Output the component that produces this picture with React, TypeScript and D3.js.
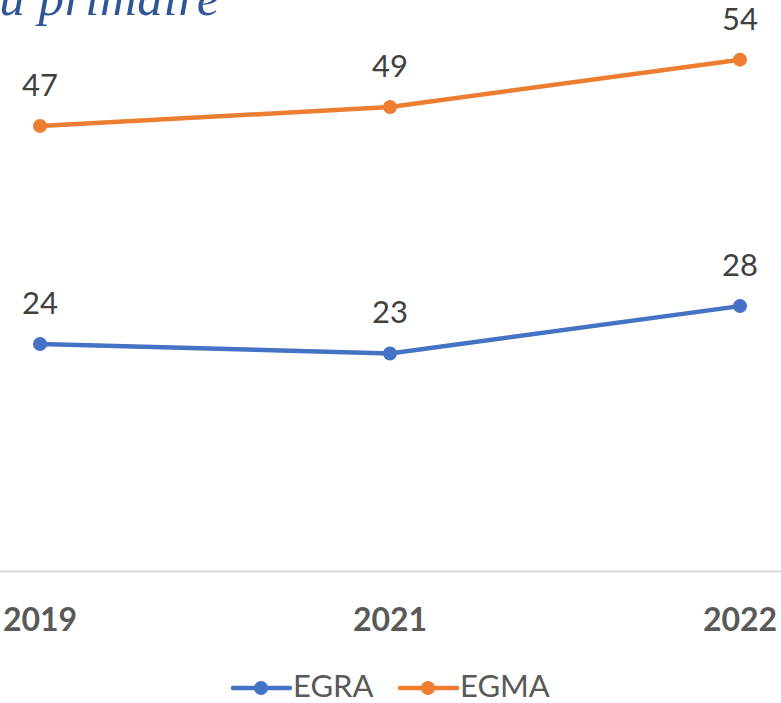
import React from "react";
import * as d3 from "d3";

const years = ["2019", "2021", "2022"];
const egra = [24, 23, 28];
const egma = [47, 49, 54];
const seriesNames = ["EGRA", "EGMA"];
const seriesColors = ["#4472C4", "#ED7D31"];

const width = 781;
const height = 703;
const font = "Lato, 'Open Sans', sans-serif";

export default function App() {
  const x = d3.scalePoint<string>().domain(years).range([40, 740]);
  const y = d3.scaleLinear().domain([0, 60]).range([571.5, 2.8]);
  const line = d3
    .line<number>()
    .x((_, i) => x(years[i]) as number)
    .y((d) => y(d));

  const series = [egra, egma];

  return (
    <svg
      width={width}
      height={height}
      style={{ position: "absolute", left: 0, top: 0, background: "#fff" }}
    >
      {/* title, cut at the top and left */}
      <text
        x={220}
        y={15}
        textAnchor="end"
        fontFamily="'Liberation Serif', serif"
        fontStyle="italic"
        fontSize={51}
        letterSpacing={0.6}
        fill="#2F5597"
      >
        au primaire
      </text>

      {/* x axis */}
      <line x1={0} x2={width} y1={y(0)} y2={y(0)} stroke="#D9D9D9" strokeWidth={2} />
      {years.map((yr) => (
        <text
          key={yr}
          x={x(yr)}
          y={631}
          textAnchor="middle"
          fontFamily={font}
          fontWeight="bold"
          fontSize={32}
          fill="#595959"
        >
          {yr}
        </text>
      ))}

      {series.map((vals, s) => (
        <g key={seriesNames[s]}>
          <path d={line(vals) || ""} fill="none" stroke={seriesColors[s]} strokeWidth={4.5} strokeLinecap="round" />
          {vals.map((v, i) => (
            <g key={i}>
              <circle cx={x(years[i])} cy={y(v)} r={7} fill={seriesColors[s]} />
              <text
                x={x(years[i])}
                y={y(v) - 30}
                textAnchor="middle"
                fontFamily={font}
                fontSize={31}
                fill="#404040"
              >
                {v}
              </text>
            </g>
          ))}
        </g>
      ))}

      {/* legend */}
      {seriesNames.map((name, s) => {
        const lx = 233 + s * 167;
        return (
          <g key={name}>
            <line x1={lx} x2={lx + 57} y1={688} y2={688} stroke={seriesColors[s]} strokeWidth={4.5} strokeLinecap="round" />
            <circle cx={lx + 28} cy={688} r={7} fill={seriesColors[s]} />
            <text x={lx + 60} y={697} fontFamily={font} fontSize={31} fill="#595959">
              {name}
            </text>
          </g>
        );
      })}
    </svg>
  );
}
